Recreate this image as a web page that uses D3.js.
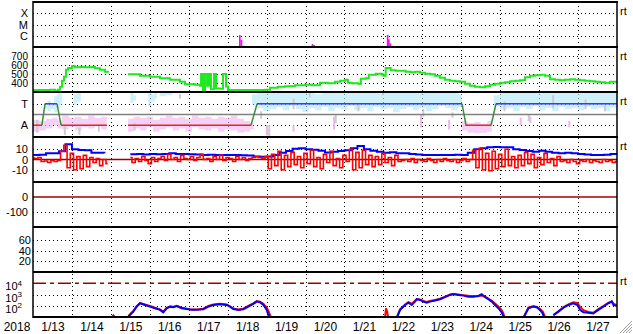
<!DOCTYPE html>
<html>
<head>
<meta charset="utf-8">
<script src="https://cdnjs.cloudflare.com/ajax/libs/d3/7.8.5/d3.min.js"></script>
<style>
body { margin: 0; background: #fff; }
svg { display: block; font-family: "Liberation Sans", Arial, sans-serif; }
</style>
</head>
<body>
<script>
let width = 633;
let height = 334;
let left = 33, right = 617;
let panelTops = [2, 47, 92, 137, 182, 227, 272];
let panelH = 45;

// hours since 2018-01-13 00:00 UT
let t0 = Date.UTC(2018, 0, 13);
let hr = (h) => new Date(t0 + h * 3600 * 1000);

// x-ray flare bars (hour, peak flux W/m2)
let flareH = [127, 128, 129.6, 171.8, 172.8, 218.1, 218.9, 219.8];
let flareV = [1.15e-6, 4.2e-7, 1.3e-7, 1.85e-7, 1.5e-7, 1.2e-6, 4.8e-7, 2.1e-7];

// solar wind speed km/s
let speedH = [0, 4.3, 10.5, 13.6, 15.4, 16.6, 17.9, 19.1, 20.3, 21.6,
  24, 25.9, 29, 32, 35.1, 38.2, 41.3, 44.4, 46.2, 47,
  58.6, 62.9, 66, 72.1, 78.3, 84.5, 90.6, 93.7, 99.9, 103,
  103.6, 104.8, 106, 107.3, 108.5, 109.7, 111.6, 112.8, 115.3, 117.1,
  119, 120.2, 127.6, 136.9, 143, 146.1, 151, 155.4, 161.5, 167.7,
  172, 176.9, 181.9, 186.2, 189.3, 192.4, 194.2, 196.7, 200.4, 202.1,
  205.2, 207, 211.3, 215.5, 216.2, 217.4, 220.5, 223.6, 226.6, 229.7,
  232.8, 235.5, 238.6, 241.7, 244.8, 247.8, 250.9, 254, 257.1, 260.2,
  263.2, 266.3, 269.4, 272.5, 275.6, 278.7, 281.7, 284.8, 287.9, 291,
  294.1, 297.2, 300.2, 303.3, 306.4, 309.5, 312.6, 315.6, 318.7, 321.8,
  324.9, 328, 331.1, 334.1, 337.2, 340.3, 343.4, 346.5, 349.6, 352.6,
  355.7, 360];
let speedV = [323, 321, 326, 315, 326, 359, 425, 469, 546, 568,
  585, 574, 579, 574, 579, 563, 546, 524, 513, null,
  497, 497, 480, 469, 453, 436, 414, 387, 381, 370,
  499, 315, 499, 370, 499, 330, 499, 340, 335, 499,
  360, 323, 321, 323, 326, 348, 359, 365, 376, 381,
  376, 403, 398, 414, 425, 436, 403, 398, 392, 447,
  453, 491, 502, 486, 480, 568, 541, 535, 535, 524,
  519, 524, 513, 502, 497, 480, 458, 436, 425, 420,
  414, 392, 370, 359, 354, 365, 381, 392, 403, 409,
  420, 425, 431, 464, 480, 486, 491, 480, 442, 436,
  431, 436, 442, 436, 431, 425, 420, 414, 409, 403,
  414, 414];

// IMF sector: +1 toward, -1 away
let sectorH = [0, 5.5, 7.4, 14.8, 17.3, 45.6, 50, 58.6, 134.4, 138.1, 264.5, 266.9, 282.4, 285.4, 360];
let sectorV = [-1, -1, 1, 1, -1, -1, null, -1, -1, 1, 1, -1, -1, 1, 1];

// phi angle scatter, as [hour, low, high]
let phiToward = [[6.8, 0.5, 1.1], [9, 0.3, 1.3], [11, 0.5, 1.0], [13, 0.2, 1.7], [15, 0.6, 2.0], [16.5, 0.9, 1.9], [18, 0.9, 1.9], [18, null, null],
  [25, 0.9, 1.9], [27, 1.2, 2.05], [29.5, 1.2, 2.05], [29.5, null, null],
  [60, 1.1, 2.0], [62, 1.3, 1.8], [63.5, 1.3, 1.8], [63.5, null, null],
  [71, 0.8, 2.05], [73, 1.2, 1.9], [75, 1.5, 2.0], [76.5, 1.5, 2.0], [76.5, null, null],
  [78, 1.7, 2.05], [82, 1.8, 2.05], [86, 1.8, 2.05], [86, null, null],
  [135, 0.9, 1.9], [138, 0.6, 2.05], [142, 0.3, 2.05], [146, 0.5, 2.0], [150, 0.7, 2.05], [154, 0.4, 2.05], [158, 0.8, 2.05],
  [162, 0.5, 2.0], [166, 0.2, 2.05], [170, 0.6, 2.05], [174, 0.4, 1.9], [178, 0.7, 2.05], [182, 0.3, 2.05], [186, 0.6, 2.05],
  [190, 0.5, 2.0], [194, 0.8, 2.05], [198, 0.4, 2.05], [202, 0.6, 2.05], [206, 0.3, 2.0], [210, 0.7, 2.05], [214, 0.5, 2.05],
  [218, 0.6, 2.05], [222, 0.2, 2.05], [226, 0.5, 2.0], [230, 0.7, 2.05], [234, 0.4, 2.05], [238, 0.6, 2.05], [242, 0.3, 2.05],
  [246, 0.5, 2.0], [250, 0.8, 2.05], [254, 0.6, 2.05], [258, 0.4, 2.05], [262, 0.7, 1.9], [264.5, 0.7, 1.9], [264.5, null, null],
  [284, 0.8, 1.8], [288, 0.5, 2.05], [292, 0.6, 2.05], [296, 0.3, 2.05], [300, 0.7, 2.05], [304, 0.5, 2.0], [308, 0.8, 2.05],
  [312, 0.4, 2.05], [316, 0.6, 2.05], [320, 0.3, 2.05], [324, 0.7, 2.0], [328, 0.5, 2.05], [332, 0.6, 2.05], [336, 0.4, 2.05],
  [340, 0.7, 2.05], [344, 0.5, 2.0], [348, 0.6, 2.05], [352, 0.3, 2.05], [356, 0.6, 2.05], [360, 0.6, 2.05]];
let phiAway = [[0, -0.5, -1.6], [4, -0.6, -1.5], [8, -0.4, -1.3], [12, -0.3, -1.0], [15, -0.5, -1.3], [18, -0.1, -1.4],
  [22, -0.3, -1.2], [26, -0.2, -1.5], [30, -0.4, -1.2], [34, -0.1, -1.3], [38, -0.3, -1.1], [42, -0.2, -1.4], [45.5, -0.2, -1.4], [45.5, null, null],
  [58.6, -0.4, -1.6], [62, -0.2, -1.3], [66, -0.3, -1.5], [70, -0.2, -1.2], [74, -0.5, -1.6], [78, -0.3, -1.4], [82, -0.1, -1.2],
  [86, -0.3, -1.5], [90, -0.2, -1.3], [94, -0.4, -1.6], [98, -0.1, -1.2], [102, -0.3, -1.4], [106, -0.2, -1.5], [110, -0.4, -1.3],
  [114, -0.2, -1.6], [118, -0.3, -1.4], [122, -0.1, -1.5], [126, -0.4, -1.7], [130, -0.6, -1.6], [134, -0.8, -1.4], [136, -0.8, -1.4], [136, null, null],
  [264.5, -0.6, -1.5], [268, -0.8, -1.7], [272, -0.7, -1.75], [276, -0.9, -1.7], [280, -0.6, -1.6], [283, -0.6, -1.6]];
let phiAwaySparse = [[143.6, -1.0, -1.95], [160, -1.0, -1.6], [185, -0.2, -1.4], [238.6, 0, -1.2], [255.9, -0.5, -1.4], [300, -0.3, -1.0], [306, -0.2, -0.8], [330, -0.6, -1.2]];
let phiOther = [[2, -0.5, -1.7], [19, -1.0, -1.9], [28, -1.2, -1.9], [40, -0.9, -1.6], [62, -0.8, -1.5], [90, 1.5, 1.9], [140, -0.4, 0.3],
  [145, -1.0, -2.0], [160, 0.5, 1.5], [170, 1.6, 2.0], [186, -0.8, 0], [200, 0.3, 1.0], [215, 1.8, 2.05], [240, -0.2, 0.5],
  [258, -0.3, 0.2], [290, 0.3, 1.2], [305, -0.6, 0], [320, 0.6, 1.8], [340, 0.5, 1.4], [352, 0.3, 0.9]];

// Bz every 2 hours, Bt every 4 hours (nT)
let bzV = [1.5, 1, 2,
  -2, -1.5, -3, -1, -2, -1,
  8, 14, -8, 6, -10, 3, -9, 4, -7, 2,
  -3, 1, -6, 0, -4,
  null, null, null, null, null, null,
  2, -3, 1, -2, 3, -1, -4, 2, -2, 1,
  3, -1, 5, 0, 2, -2, 4, 1, 0, 3, -1, 2, 5, 0, 1, -2, 3, 0, 4, -1, 2, 1, -2, 3, 0, 2, -1, 1,
  2, 3, 2, 1, 3,
  -9, 5, -6, 8, -10, 4, -7, 7, -5, 3,
  -8, 6, -4, 9, -7, 2, -9, 5, -3, 8, -6, 1, -8, 4, -2,
  10, -10, 7, -8, 9, -5,
  4, -7, 3, -5, 6, -3, 2, -6, 4, -2,
  -1, 0, -2, 1, -3, 0, -1, -2, 1, -1, -3, 0, -2, 1, -1, -2, 0, -3, -1, 1, -2, 0,
  9, -8, 11, -10, 6, -11, 8, -9, 5, -7, 10, -6, 3, -8, 4,
  -6, 7, -4, 5, -8, 2, -5, 6, -3, 1, -6, 3,
  -2, -1, -3, 0, -2, -4, -1, -2, 0, -3, -1, -2, -3, 0, -2, -1, -3, -2];
let btV = [4.4, 4.6, 6, 6.1, 8, 15, 10, 9.3, 9, 6.6,
  6.6, 6.1, null, null, null, 5.1, 5.4, 5, 5.5, 5.1,
  5.4, 6, 5.4, 5.5, 5.2, 5, 4.4, 4.6, 4.4, 4.5,
  4.3, 4.4, 4.2, 4, 3, 2.7, 3, 4.5, 6.5, 8.3,
  10.5, 11, 10, 9.5, 8.6, 6.8, 7.5, 8.2, 9, 10.9,
  13.2, 10, 8.6, 7.5, 6.6, 7.2, 6.2, 6, 5.4, 5,
  4.4, 4.4, 4.5, 4.3, 4.4, 4.6, 4.4, 6.5, 10, 11,
  11.9, 12.2, 11.9, 12, 10, 9.3, 8.2, 7.6, 8.6, 7.5,
  6.6, 6.1, 6.5, 6.2, 5.4, 5, 4.4, 4.4, 4.6, 5.4,
  4.4];

// electron flux
let fluxH = [48.5, 49.5, 51, 52,
  58.8, 61.8, 63.9, 66, 69, 72.1, 75.2, 78.3, 80.3, 82.4, 84.5, 86.5, 88.6, 91.7, 94.8, 97.8, 100.9, 105, 108.1, 111.2,
  115.3, 119.4, 121.4, 123.5, 126.6, 129.7, 132.7, 135.8, 137.9, 139.9, 142, 144.1, 145.1, 146.1, 147.2, 148,
  217, 217.6, 218.4, 219, 220,
  224.2, 226.3, 229.3, 231.4, 233.5, 235.5, 236.6, 238.6, 240.6, 242.7, 244.7, 247.8, 250.9, 254, 257.1, 259.1, 262.2,
  265.3, 268.4, 271.4, 274.5, 276.6, 278.7, 280.7, 282.8, 284.8, 286.9, 289, 290, 290.4, 291.5, 292.5,
  302.3, 305.4, 308.4, 310.5, 312.6, 314.2, 315.1, 316, 317,
  320.8, 323.9, 327, 330.1, 333.1, 335.6, 337.2, 339.3, 342.3, 345.4, 348.5, 351.6, 354.6, 356.8, 357.8, 359.9];
let fluxBlue = [null, 10, null, null,
  11, 30, 83, 166, 117, 83, 60, 43, 26, 60, 83, 74, 95, 60, 51, 43, 43, 49, 83, 117,
  135, 117, 83, 51, 43, 49, 83, 145, 234, 204, 117, 43, 15, 7.6, null, null,
  null, null, null, null, null,
  8, 43, 117, 190, 117, 234, 380, 330, 234, 190, 234, 288, 380, 575, 912, 1120, 912,
  794, 646, 646, 750, 1070, 575, 380, 234, 117, 60, 24, 11, 7, null, null,
  8, 60, 83, 74, 43, 21, 8, null, null,
  15, 30, 68, 117, 166, 117, 43, 26, 24, 21, 43, 83, 166, 234, 117, 95];
let fluxRed = [9, 14, 8, null,
  12, 34, 90, 175, 130, 95, 66, 48, 30, 66, 86, 80, 100, 66, 55, 46, 47, 55, 95, 130,
  150, 128, 90, 56, 47, 55, 95, 165, 260, 230, 150, 70, 35, 15, 7, null,
  9, 60, 25, 8, null,
  9, 48, 125, 210, 150, 280, 400, 370, 270, 220, 260, 320, 420, 640, 1000, 1100, 1000,
  880, 760, 700, 700, 800, 650, 430, 270, 160, 85, 40, 20, 12, 7, null,
  9, 70, 95, 80, 50, 30, 16, 8, null,
  14, 32, 75, 135, 200, 175, 80, 40, 28, 24, 50, 95, 180, 250, 150, 110];

// axis ticks
let xrayTicks = [1e-6, 1e-5, 1e-4], xrayLabels = ["C", "M", "X"];
let speedTicks = [400, 500, 600, 700];
let sectorTicks = [-1, 1], sectorLabels = ["A", "T"];
let magTicks = [-10, 0, 10];
let dstTicks = [-100, 0];
let kpTicks = [20, 40, 60];
let fluxTicks = [1e2, 1e3, 1e4], fluxExp = ["2", "3", "4"];
let dayLabels = d3.range(15);

let svg = d3.select("body").append("svg").attr("width", width).attr("height", height).attr("viewBox", '0 0 ' + width + ' ' + height);

let x = d3.scaleUtc().domain([hr(0), hr(360)]).range([left, right]);
let xh = (h) => x(hr(h));

let yXray = d3.scaleLog().domain([1e-7, 1e-3]).range([47, 2]);
let ySpeed = d3.scaleLinear().domain([300, 800]).range([92, 47]);
let ySector = d3.scaleLinear().domain([-2.1, 2.1]).range([137, 92]);
let yMag = d3.scaleLinear().domain([-22, 22]).range([182, 137]);
let yDst = d3.scaleLinear().domain([-200, 100]).range([227, 182]);
let yKp = d3.scaleLinear().domain([0, 84]).range([272, 227]);
let yFlux = d3.scaleLog().domain([1e1, 1e5]).range([317, 272]);

let defs = svg.append("defs");
panelTops.forEach((top, i) => {
  defs.append("clipPath").attr("id", "clip" + i).append("rect")
    .attr("x", left).attr("y", top).attr("width", right - left).attr("height", panelH);
});
let panel = (i) => svg.append("g").attr("clip-path", "url(#clip" + i + ")");

let crisp = (v) => Math.round(v) + 0.5;

// dotted grid
let grid = svg.append("g").attr("stroke", "#000").attr("stroke-width", 1).attr("stroke-dasharray", "1,3");
grid.selectAll(".vgrid").data(d3.range(1, 15)).enter().append("line")
  .attr("x1", (d) => crisp(xh(d * 24))).attr("x2", (d) => crisp(xh(d * 24)))
  .attr("y1", 2).attr("y2", 317);
let hGrid = (scale, vals) => {
  grid.append("g").selectAll("line").data(vals).enter().append("line")
    .attr("x1", left).attr("x2", right)
    .attr("y1", (d) => crisp(scale(d))).attr("y2", (d) => crisp(scale(d)));
};
hGrid(yXray, xrayTicks);
hGrid(ySpeed, speedTicks);
hGrid(ySector, sectorTicks);
hGrid(yMag, [-10, 10]);
hGrid(yDst, [-100]);
hGrid(yKp, kpTicks);
hGrid(yFlux, [1e2, 1e3]);

// panel 1: flares
panel(0).selectAll("rect").data(flareH).enter().append("rect")
  .attr("x", (h) => xh(h)).attr("width", (h) => xh(h + 1) - xh(h))
  .attr("y", (h, i) => yXray(flareV[i])).attr("height", (h, i) => 47 - yXray(flareV[i]))
  .attr("fill", "#ff00ff");

// panel 2: speed
let speedData = speedH.map((h, i) => [h, speedV[i]]);
panel(1).append("path").datum(speedData)
  .attr("d", d3.line().defined((d) => d[1] != null).x((d) => xh(d[0])).y((d) => ySpeed(d[1])).curve(d3.curveStepAfter))
  .attr("fill", "none").attr("stroke", "#1ee81e").attr("stroke-width", 2);

// panel 3: sector
let p3 = panel(2);
let band = d3.area().defined((d) => d[1] != null).x((d) => xh(d[0]))
  .y0((d) => ySector(d[1])).y1((d) => ySector(d[2])).curve(d3.curveStepAfter);
p3.append("path").datum(phiToward).attr("d", band).attr("fill", "#aee6f8").attr("opacity", 0.6);
p3.append("path").datum(phiAway).attr("d", band).attr("fill", "#f2b2ee").attr("opacity", 0.6);
p3.selectAll(".sp").data(phiAwaySparse).enter().append("rect")
  .attr("x", (d) => xh(d[0])).attr("width", 2)
  .attr("y", (d) => ySector(d[1])).attr("height", (d) => ySector(d[2]) - ySector(d[1]))
  .attr("fill", "#f2b2ee");
p3.selectAll(".gp").data(phiOther).enter().append("rect")
  .attr("x", (d) => xh(d[0])).attr("width", 2)
  .attr("y", (d) => ySector(Math.max(d[1], d[2]))).attr("height", (d) => Math.abs(ySector(d[2]) - ySector(d[1])))
  .attr("fill", "#cccccc");
p3.append("line").attr("x1", left).attr("x2", right)
  .attr("y1", ySector(0)).attr("y2", ySector(0)).attr("stroke", "#808080").attr("stroke-width", 1.5);
let sectorPts = sectorH.map((h, i) => [h, sectorV[i]]);
let sectorSegs = d3.pairs(sectorPts).filter((p) => p[0][1] != null && p[1][1] != null);
p3.selectAll(".seg").data(sectorSegs).enter().append("line")
  .attr("x1", (p) => xh(p[0][0])).attr("x2", (p) => xh(p[1][0]))
  .attr("y1", (p) => ySector(p[0][1])).attr("y2", (p) => ySector(p[1][1]))
  .attr("stroke", (p) => p[0][1] != p[1][1] ? "#3c8c3c" : (p[0][1] > 0 ? "#3838ff" : "#e02828"))
  .attr("stroke-width", 1.5);

// panel 4: IMF
let p4 = panel(3);
p4.append("line").attr("x1", left).attr("x2", right)
  .attr("y1", yMag(0)).attr("y2", yMag(0)).attr("stroke", "#a00000").attr("stroke-width", 1.5);
p4.append("path").datum(btV)
  .attr("d", d3.line().defined((d) => d != null).x((d, i) => xh(i * 4)).y((d) => yMag(d)).curve(d3.curveStepAfter))
  .attr("fill", "none").attr("stroke", "#0000ff").attr("stroke-width", 2);
p4.append("path").datum(bzV)
  .attr("d", d3.line().defined((d) => d != null).x((d, i) => xh(i * 2)).y((d) => yMag(d)).curve(d3.curveStep))
  .attr("fill", "none").attr("stroke", "#ff0000").attr("stroke-width", 1.6);

// panel 5: zero line
panel(4).append("line").attr("x1", left).attr("x2", right)
  .attr("y1", yDst(0)).attr("y2", yDst(0)).attr("stroke", "#a00000").attr("stroke-width", 1.5);

// panel 7: flux
let p7 = panel(6);
p7.append("line").attr("x1", left).attr("x2", right)
  .attr("y1", yFlux(1e4)).attr("y2", yFlux(1e4))
  .attr("stroke", "#a00000").attr("stroke-width", 1.5).attr("stroke-dasharray", "13,4,4,4");
let fluxLine = (vals) => d3.line().defined((d, i) => vals[i] != null)
  .x((d) => xh(d)).y((d, i) => yFlux(Math.max(vals[i], 1)));
p7.append("path").datum(fluxH).attr("d", fluxLine(fluxRed))
  .attr("fill", "none").attr("stroke", "#ff0000").attr("stroke-width", 2);
p7.append("path").datum(fluxH).attr("d", fluxLine(fluxBlue))
  .attr("fill", "none").attr("stroke", "#0000ff").attr("stroke-width", 2);

// frame
let frame = svg.append("g").attr("stroke", "#000");
frame.selectAll(".sep").data(panelTops.concat([317])).enter().append("line")
  .attr("x1", left).attr("x2", right + 1).attr("y1", (d) => d).attr("y2", (d) => d).attr("stroke-width", 2);
frame.append("line").attr("x1", left).attr("x2", left).attr("y1", 1).attr("y2", 318).attr("stroke-width", 1.5);
frame.append("line").attr("x1", right).attr("x2", right).attr("y1", 1).attr("y2", 318).attr("stroke-width", 1.5);

// y axes
let yAxis = (scale, ticks, fmt, shift) => {
  let g = svg.append("g").attr("transform", "translate(" + left + "," + (shift || 0) + ")")
    .call(d3.axisLeft(scale).tickValues(ticks).tickSize(0).tickPadding(5).tickFormat(fmt));
  g.select(".domain").remove();
  g.selectAll("text").attr("font-size", 11).attr("font-family", '"Liberation Sans", Arial, sans-serif').attr("fill", "#000");
  return g;
};
yAxis(yXray, xrayTicks, (d, i) => xrayLabels[i]);
yAxis(ySpeed, speedTicks, (d) => String(d)).selectAll("text").attr("font-size", 10);
yAxis(ySector, sectorTicks, (d, i) => sectorLabels[i]);
yAxis(yMag, magTicks, (d) => String(d));
yAxis(yDst, dstTicks, (d) => String(d));
yAxis(yKp, kpTicks, (d) => String(d), 0).attr("transform", "translate(" + (left + 3) + ",0)");
let fluxAxis = yAxis(yFlux, fluxTicks, () => "10", 3);
fluxAxis.selectAll("text").attr("dx", "-6")
  .append("tspan").attr("dy", "-0.55em").attr("font-size", 8).text((d, i) => fluxExp[i]);

// realtime marks
svg.selectAll(".rt").data([0, 1, 2, 3, 6]).enter().append("text")
  .attr("x", 620).attr("y", (i) => panelTops[i] + 13)
  .attr("font-size", 11).attr("fill", "#000").text("rt");

// time axis
let xAxis = svg.append("g").attr("transform", "translate(0,317)")
  .call(d3.axisBottom(x).tickValues(dayLabels.map((d) => hr(d * 24 + 12))).tickSize(0).tickPadding(5).tickFormat(d3.utcFormat("%-m/%-d")));
xAxis.select(".domain").remove();
xAxis.selectAll("text").attr("font-size", 12).attr("font-family", '"Liberation Sans", Arial, sans-serif').attr("fill", "#000");
svg.append("text").attr("x", 17).attr("y", 331).attr("text-anchor", "middle")
  .attr("font-size", 12).attr("fill", "#000").text("2018");

// window grip
svg.append("g").attr("stroke", "#a0a0a0").selectAll("line").data([0, 1, 2, 3]).enter().append("line")
  .attr("x1", (k) => 620 + k * 3).attr("y1", 333).attr("x2", 632).attr("y2", (k) => 321 + k * 3);
</script>
</body>
</html>
